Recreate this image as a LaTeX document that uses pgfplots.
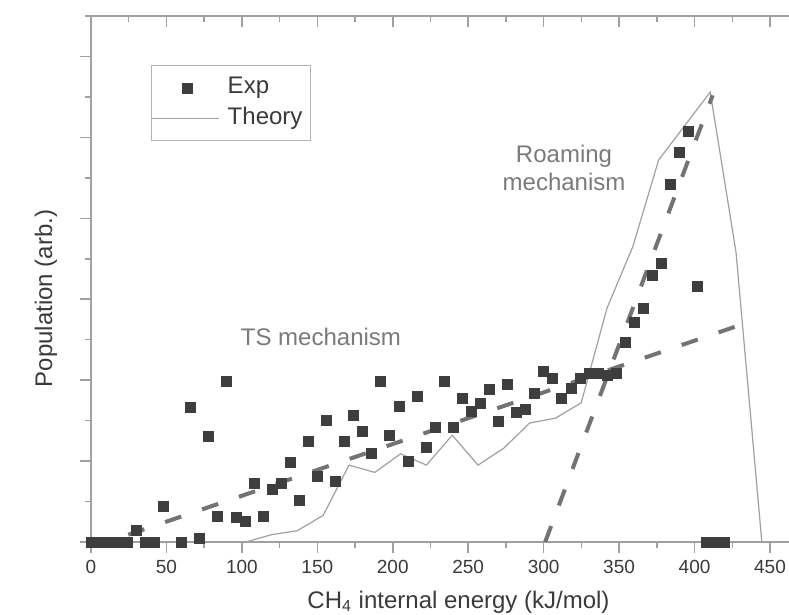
\documentclass[border=0pt]{standalone}
\usepackage{fontspec}
\setmainfont{Liberation Sans}
\usepackage{pgfplots}
\pgfplotsset{compat=1.18}

\definecolor{expc}{HTML}{3E3E3E}
\definecolor{thc}{HTML}{A0A0A0}
\definecolor{dashc}{HTML}{737373}
\definecolor{axc}{HTML}{A0A0A0}
\definecolor{txtc}{HTML}{3A3A3A}
\definecolor{annc}{HTML}{7A7A7A}
\definecolor{legc}{HTML}{B4B4B4}

\pgfplotsset{
    expleg/.style={legend image code/.code={
        \path[draw=none, fill=none] (0pt,0pt) rectangle (33.5pt,0pt);
        \draw[##1] plot coordinates {(17.5pt,0pt)};}},
    thleg/.style={legend image code/.code={
        \draw[##1] (0pt,0pt) -- (33.5pt,0pt);}},
}

\begin{document}
\begin{tikzpicture}
\path[use as bounding box] (-45.5pt,-36.5pt) rectangle (349pt,271pt);

% top axis line with inward ticks
\begin{axis}[
    at={(0,0)}, anchor=south west,
    scale only axis, width=349pt, height=263pt,
    xmin=0, xmax=462.6, ymin=0, ymax=6.5,
    axis x line*=top, axis y line=none,
    axis line style={draw=axc, line width=0.75pt, -},
    tick style={draw=axc, line width=0.75pt},
    tick align=inside,
    major tick length=5.5pt, minor tick length=3pt,
    xtick distance=50, minor x tick num=1,
    xticklabels={}, ytick=\empty,
]
\end{axis}

\begin{axis}[
    at={(0,0)}, anchor=south west,
    scale only axis, width=349pt, height=263pt,
    xmin=0, xmax=462.6, ymin=0, ymax=6.5,
    axis x line*=bottom, axis y line*=left,
    axis line style={draw=axc, line width=0.75pt, -},
    tick style={draw=axc, line width=0.75pt},
    tick align=outside,
    major tick length=5.5pt, minor tick length=3pt,
    xtick distance=50, minor x tick num=1,
    ytick distance=1, minor y tick num=1, yticklabels={},
    /pgf/number format/assume math mode=true,
    xticklabel style={font=\fontsize{9.5}{11}\selectfont, text=txtc},
    xlabel={CH\textsubscript{4} internal energy (kJ/mol)},
    ylabel={Population (arb.)},
    label style={font=\fontsize{12}{14}\selectfont, text=txtc},
    xlabel style={at={(axis description cs:0.5265,-0.114)}, anchor=center},
    ylabel style={at={(axis description cs:-0.0645,0.463)}, anchor=center},
    clip=false,
    legend style={at={(axis cs:39.8,5.89)}, anchor=north west,
        draw=legc, line width=0.5pt, inner xsep=0pt, inner ysep=5pt,
        row sep=3.5pt, font=\fontsize{12}{14}\selectfont, text=txtc,
        nodes={inner xsep=4pt, inner ysep=0pt, text height=9pt, text depth=3pt}},
    legend cell align=left,
]

% experiment
\addplot[only marks, mark=square*, mark size=2.5pt,
    mark options={fill=expc, draw=expc, line width=0.3pt}, expleg]
coordinates {
    (0,0) (6,0) (12,0) (18,0) (24,0) (30,0.15) (36,0) (42,0) (48,0.44)
    (60,0) (66,1.66) (72,0.04) (78,1.31) (84,0.32) (90,1.99) (96,0.30)
    (102,0.25) (108,0.72) (114,0.32) (120,0.65) (126,0.72) (132,0.98)
    (138,0.52) (144,1.25) (150,0.81) (156,1.50) (162,0.75) (168,1.24)
    (174,1.56) (180,1.37) (186,1.10) (192,1.99) (198,1.32) (204,1.68)
    (210,1.00) (216,1.80) (222,1.17) (228,1.42) (234,1.99) (240,1.42)
    (246,1.78) (252,1.61) (258,1.72) (264,1.89) (270,1.49) (276,1.95)
    (282,1.60) (288,1.64) (294,1.84) (300,2.11) (306,2.02) (312,1.77)
    (318,1.90) (324,2.02) (330,2.08) (336,2.08) (342,2.06) (348,2.09)
    (354,2.47) (360,2.71) (366,2.89) (372,3.30) (378,3.44) (384,4.42)
    (390,4.81) (396,5.08) (402,3.16) (408,0) (414,0) (420,0)
};
\addlegendentry{Exp}

% theory
\addplot[color=thc, line width=0.6pt, mark=none, thleg]
coordinates {
    (102.6,0) (119.7,0.09) (136.8,0.14) (153.9,0.33) (171.0,0.95)
    (188.1,0.86) (205.2,1.09) (222.3,0.95) (239.4,1.32) (256.5,0.95)
    (273.6,1.16) (290.7,1.47) (307.8,1.53) (324.9,1.72) (342.0,2.89)
    (359.1,3.65) (376.2,4.72) (393.3,5.14) (410.4,5.56) (427.5,3.58)
    (444.6,0)
};
\addlegendentry{Theory\hspace{6pt}}

% fits
\addplot[forget plot, color=dashc, line width=2pt, dash pattern=on 8.5pt off 11pt]
coordinates {(24.7,0.09) (430,2.68)};
\addplot[forget plot, color=dashc, line width=2pt, dash pattern=on 8.5pt off 11pt]
coordinates {(301,0) (412,5.52)};

\node[text=annc, font=\fontsize{12}{14}\selectfont] at (axis cs:152.4,2.54) {TS mechanism};
\node[text=annc, font=\fontsize{12}{14.2}\selectfont, align=center] at (axis cs:313.5,4.62) {Roaming\\mechanism};

\end{axis}
\end{tikzpicture}
\end{document}
